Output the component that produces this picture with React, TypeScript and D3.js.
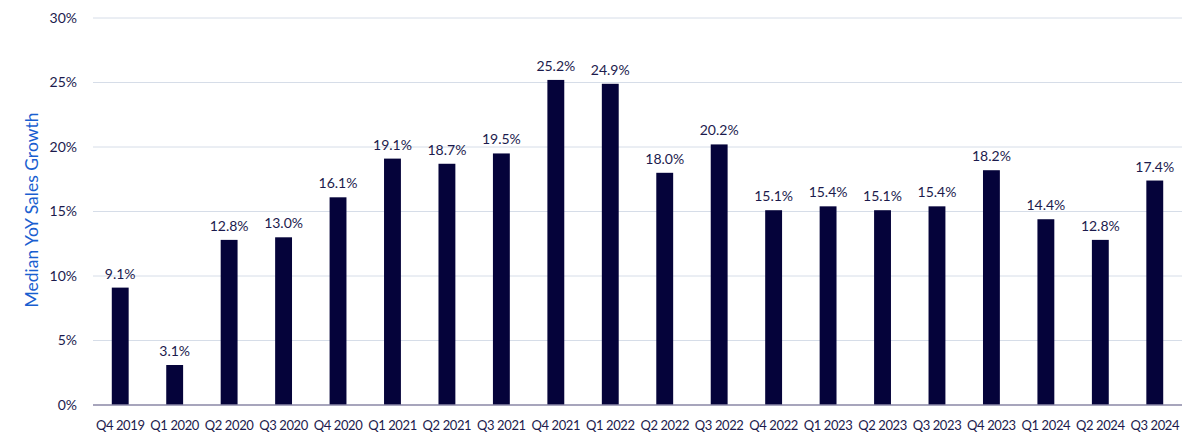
import React, { useEffect, useRef } from "react";
import * as d3 from "d3";

const quarters = [
  "Q4 2019", "Q1 2020", "Q2 2020", "Q3 2020", "Q4 2020",
  "Q1 2021", "Q2 2021", "Q3 2021", "Q4 2021", "Q1 2022",
  "Q2 2022", "Q3 2022", "Q4 2022", "Q1 2023", "Q2 2023",
  "Q3 2023", "Q4 2023", "Q1 2024", "Q2 2024", "Q3 2024",
];
const growth = [
  9.1, 3.1, 12.8, 13.0, 16.1, 19.1, 18.7, 19.5, 25.2, 24.9,
  18.0, 20.2, 15.1, 15.4, 15.1, 15.4, 18.2, 14.4, 12.8, 17.4,
];
const yTicks = [0, 5, 10, 15, 20, 25, 30];

const W = 1200;
const H = 446;
const FONT = "'Source Sans Pro', Lato, sans-serif";

const App = () => {
  const ref = useRef<SVGSVGElement>(null);

  useEffect(() => {
    const svg = d3.select(ref.current);
    svg.selectAll("*").remove();

    const left = 93, right = 1182, top = 18, bottom = 405;

    const x = d3
      .scaleBand<string>()
      .domain(quarters)
      .range([left, right])
      .paddingInner(0.69)
      .paddingOuter(0.345);
    const y = d3.scaleLinear().domain([0, 30]).range([bottom, top]);

    // gridlines
    svg.append("g")
      .selectAll("line")
      .data(yTicks.filter((t) => t > 0))
      .join("line")
      .attr("x1", left)
      .attr("x2", right)
      .attr("y1", (d) => y(d))
      .attr("y2", (d) => y(d))
      .attr("stroke", "#d6dde8")
      .attr("stroke-width", 1);

    // y tick labels
    svg.append("g")
      .selectAll("text")
      .data(yTicks)
      .join("text")
      .attr("x", 77)
      .attr("y", (d) => y(d))
      .attr("dy", "0.35em")
      .attr("text-anchor", "end")
      .attr("font-family", FONT)
      .attr("font-size", 14)
      .attr("fill", "#1c1b4d")
      .text((d) => `${d}%`);

    // bars
    svg.append("g")
      .selectAll("rect")
      .data(growth)
      .join("rect")
      .attr("x", (_, i) => x(quarters[i])!)
      .attr("y", (d) => y(d))
      .attr("width", x.bandwidth())
      .attr("height", (d) => bottom - y(d))
      .attr("fill", "#05033a");

    // value labels
    svg.append("g")
      .selectAll("text")
      .data(growth)
      .join("text")
      .attr("x", (_, i) => x(quarters[i])! + x.bandwidth() / 2)
      .attr("y", (d) => y(d) - 9)
      .attr("text-anchor", "middle")
      .attr("font-family", FONT)
      .attr("font-size", 14)
      .attr("fill", "#1c1b4d")
      .text((d) => `${d.toFixed(1)}%`);

    // baseline
    svg.append("line")
      .attr("x1", left)
      .attr("x2", right)
      .attr("y1", bottom)
      .attr("y2", bottom)
      .attr("stroke", "#8a87a6")
      .attr("stroke-width", 1.5);

    // x labels
    svg.append("g")
      .selectAll("text")
      .data(quarters)
      .join("text")
      .attr("x", (d) => x(d)! + x.bandwidth() / 2)
      .attr("y", 430)
      .attr("text-anchor", "middle")
      .attr("font-family", FONT)
      .attr("font-size", 13)
      .attr("letter-spacing", -0.4)
      .attr("fill", "#1c1b4d")
      .text((d) => d);

    // y title
    svg.append("text")
      .attr("transform", `translate(38,210) rotate(-90)`)
      .attr("text-anchor", "middle")
      .attr("font-family", FONT)
      .attr("font-size", 17.5)
      .attr("fill", "#1a5fd0")
      .text("Median YoY Sales Growth");
  }, []);

  return (
    <svg
      ref={ref}
      width={W}
      height={H}
      style={{ position: "absolute", left: 0, top: 0, background: "#fff" }}
    />
  );
};

export default App;
